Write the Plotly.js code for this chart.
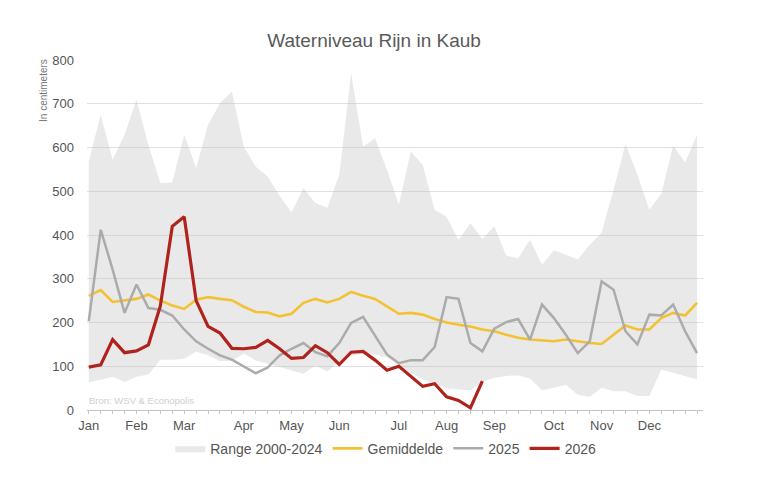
<!DOCTYPE html>
<html>
<head>
<meta charset="utf-8">
<script src="https://cdn.plot.ly/plotly-3.0.1.min.js"></script>
<style>
  html, body { margin: 0; padding: 0; background: #fff; }
  #chart { width: 768px; height: 478px; }
</style>
</head>
<body>
<div id="chart"></div>
<script>
// Weekly water level at Kaub (cm), week index 0..51
var rangeMin = [63,70,76,64,76,81,115,115,117,133,125,112,112,130,113,106,98,90,83,102,88,110,123,130,127,120,102,85,70,60,50,47,45,64,74,78,79,72,45,51,58,35,30,51,43,43,32,32,92,85,77,70];
var rangeMax = [568,675,572,629,709,606,519,520,629,553,652,701,728,602,556,534,490,452,507,473,462,538,770,602,621,549,469,591,560,458,442,389,427,391,420,353,347,389,332,365,355,344,378,406,503,608,538,458,494,604,566,629];
var gemiddelde = [261,274,247,251,254,264,250,239,231,252,258,254,251,236,224,223,214,220,245,254,246,254,270,261,254,237,220,222,218,208,200,195,191,184,180,172,165,161,159,157,161,157,153,151,172,193,184,184,210,222,216,245];
var year2025 = [203,412,321,222,287,233,229,216,184,157,140,125,115,100,84,97,125,140,153,132,123,153,199,213,169,127,107,114,114,144,258,254,153,134,186,201,208,161,241,210,172,130,157,294,275,180,150,218,216,241,180,130];
var year2026 = [98,103,161,131,135,149,238,420,442,250,191,176,141,140,143,159,140,118,120,147,131,104,132,134,114,91,100,77,54,60,30,22,5,66];
var monthLabels = ["Jan","Feb","Mar","Apr","May","Jun","Jul","Aug","Sep","Oct","Nov","Dec"];
var monthStartWeek = [0,4,8,13,17,21,26,30,34,39,43,47];
var yTicks = [0,100,200,300,400,500,600,700,800];

function weeks(arr) { return arr.map(function (_, i) { return i; }); }

var FONT = '"Liberation Sans", Arial, Helvetica, sans-serif';

var data = [
  { x: weeks(rangeMin), y: rangeMin, type: 'scatter', mode: 'lines',
    line: { width: 0, color: 'rgba(0,0,0,0)' }, showlegend: false, hoverinfo: 'skip' },
  { x: weeks(rangeMax), y: rangeMax, type: 'scatter', mode: 'lines', name: 'Range 2000-2024',
    fill: 'tonexty', fillcolor: 'rgba(190,190,190,0.34)', line: { width: 0, color: 'rgba(0,0,0,0)' } },
  { x: weeks(gemiddelde), y: gemiddelde, type: 'scatter', mode: 'lines', name: 'Gemiddelde',
    line: { color: '#f2c232', width: 2.6 } },
  { x: weeks(year2025), y: year2025, type: 'scatter', mode: 'lines', name: '2025',
    line: { color: '#ababab', width: 2.5 } },
  { x: weeks(year2026), y: year2026, type: 'scatter', mode: 'lines', name: '2026',
    line: { color: '#b0231d', width: 3.2 } }
];

var layout = {
  width: 768, height: 478,
  margin: { l: 87, r: 65, t: 60, b: 68, pad: 0 },
  paper_bgcolor: '#ffffff', plot_bgcolor: '#ffffff',
  font: { family: FONT, color: '#555555', size: 13 },
  title: { text: 'Waterniveau Rijn in Kaub', font: { family: FONT, size: 19, color: '#5a5a5a' },
           xref: 'container', x: 0.487, xanchor: 'center', yref: 'container', y: 0.916, yanchor: 'middle' },
  xaxis: {
    range: [-0.15, 51.5], tickmode: 'array', tickvals: monthStartWeek, ticktext: monthLabels,
    showgrid: false, zeroline: false, showline: true, linecolor: '#c4c4c4', linewidth: 1,
    ticks: 'outside', ticklen: 3, tickcolor: '#c4c4c4', tickwidth: 1,
    minor: { tickmode: 'linear', tick0: 0, dtick: 1, ticks: 'outside', ticklen: 3, tickcolor: '#c4c4c4', tickwidth: 1, showgrid: false },
    tickfont: { family: FONT, size: 13, color: '#555555' }, fixedrange: true
  },
  yaxis: {
    range: [0, 800], tickmode: 'array', tickvals: yTicks,
    showgrid: true, gridcolor: '#e0e0e0', gridwidth: 1, zeroline: false, showline: false,
    ticks: '', ticklabelstandoff: 12,
    tickfont: { family: FONT, size: 13, color: '#555555' }, fixedrange: true
  },
  legend: {
    orientation: 'h', x: 0.485, xanchor: 'center', y: -0.065, yanchor: 'top',
    font: { family: FONT, size: 14, color: '#555555' }, traceorder: 'normal',
    bgcolor: 'rgba(0,0,0,0)'
  },
  annotations: [
    { text: 'In centimeters', xref: 'paper', yref: 'paper', x: -0.0715, y: 1.01,
      xanchor: 'center', yanchor: 'top', textangle: -90, showarrow: false,
      font: { family: FONT, size: 10, color: '#777777' } },
    { text: 'Bron: WSV & Econopolis', xref: 'paper', yref: 'paper', x: 0.0, y: 0.005,
      xanchor: 'left', yanchor: 'bottom', showarrow: false,
      font: { family: FONT, size: 9.5, color: '#cfcfcf' } }
  ],
  showlegend: true
};

Plotly.newPlot('chart', data, layout, { displayModeBar: false, staticPlot: true });
</script>
</body>
</html>
